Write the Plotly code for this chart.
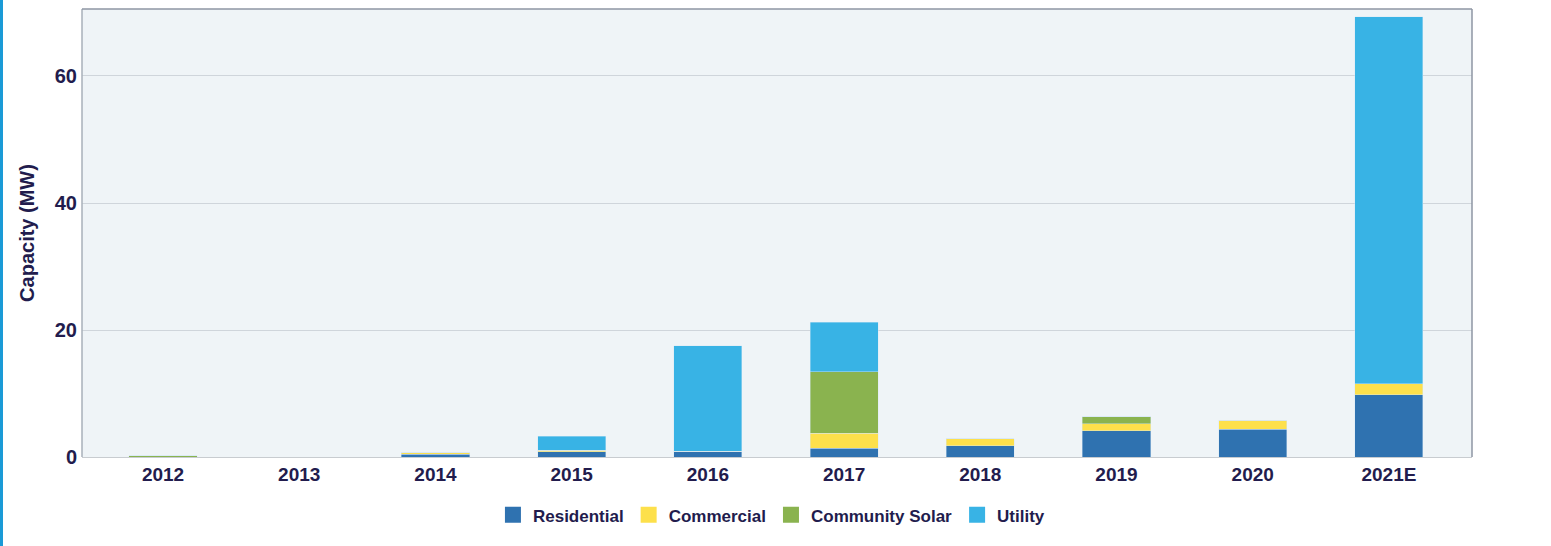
import plotly.graph_objects as go

years = ["2012", "2013", "2014", "2015", "2016", "2017", "2018", "2019", "2020", "2021E"]
residential = [0.0, 0.0, 0.45, 0.8, 0.8, 1.35, 1.8, 4.1, 4.35, 9.8]
commercial = [0.0, 0.0, 0.25, 0.3, 0.1, 2.4, 1.05, 1.1, 1.45, 1.7]
community_solar = [0.2, 0.0, 0.0, 0.0, 0.0, 9.7, 0.0, 1.1, 0.0, 0.0]
utility = [0.0, 0.0, 0.0, 2.2, 16.6, 7.75, 0.0, 0.0, 0.0, 57.8]

series = [
    ("Residential", residential, "#2f72b0"),
    ("Commercial", commercial, "#fde04b"),
    ("Community Solar", community_solar, "#8ab34f"),
    ("Utility", utility, "#38b3e5"),
]

navy = "#221c4d"
font_family = "Liberation Sans, Arial, sans-serif"

fig = go.Figure()
for name, vals, color in series:
    fig.add_trace(go.Bar(
        x=years, y=vals, name=name, showlegend=False, legendgroup=name,
        marker=dict(color=color, line=dict(color="rgba(215,232,245,0.7)", width=0.6)),
        width=0.5,
    ))
# legend entries with larger square swatches
for name, vals, color in series:
    fig.add_trace(go.Scatter(
        x=[None], y=[None], mode="markers", name=name, legendgroup=name,
        marker=dict(symbol="square", size=22, color=color),
        showlegend=True,
    ))

fig.update_layout(
    barmode="stack",
    width=1551, height=546,
    margin=dict(l=82, r=79, t=9, b=89),
    paper_bgcolor="white",
    plot_bgcolor="#eff4f7",
    font=dict(family=font_family, color=navy, size=19),
    showlegend=True,
    legend=dict(
        orientation="h", x=0.496, xanchor="center", y=-0.09, yanchor="top",
        font=dict(size=17, color=navy, family=font_family, weight="bold"),
        traceorder="normal", itemwidth=30,
    ),
    xaxis=dict(
        type="category", range=[-0.595, 9.61],
        showgrid=False, showline=True, linecolor="#c8ccd0", linewidth=1,
        tickfont=dict(size=19, color=navy, family=font_family, weight="bold"),
        ticks="", mirror=False, zeroline=False,
    ),
    yaxis=dict(
        range=[0, 70.55], tickvals=[0, 20, 40, 60],
        showgrid=True, gridcolor="#cfd5db", gridwidth=1,
        zeroline=False, showline=False,
        tickfont=dict(size=20, color=navy, family=font_family, weight="bold"),
        ticklabelstandoff=4,
        title=dict(text="Capacity (MW)", standoff=14,
                   font=dict(size=20, color=navy, family=font_family, weight="bold")),
        ticks="",
    ),
    shapes=[
        dict(type="line", xref="paper", yref="paper", x0=0, x1=0, y0=0, y1=1,
             line=dict(color="#a9b0ba", width=1.5)),
        dict(type="line", xref="paper", yref="paper", x0=0, x1=1, y0=1, y1=1,
             line=dict(color="#8e96a3", width=1.5)),
        dict(type="line", xref="paper", yref="paper", x0=1, x1=1, y0=0, y1=1,
             line=dict(color="#8e96a3", width=1.5)),
        dict(type="rect", xref="paper", yref="paper",
             x0=-82 / 1390, x1=-79 / 1390, y0=-0.21, y1=1.03,
             fillcolor="#1a9ad6", line=dict(width=0), layer="above"),
    ],
)

fig.write_html("out.html", config={"displayModeBar": False},
               post_script="document.body.style.margin='0';")
